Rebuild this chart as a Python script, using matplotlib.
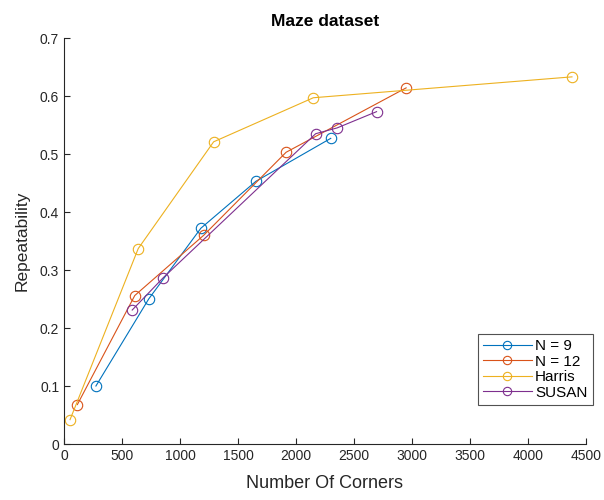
import matplotlib
matplotlib.use("Agg")
import matplotlib.pyplot as plt

plt.rcParams['font.family'] = ['Liberation Sans', 'DejaVu Sans']

# corners vs repeatability
n9_x = [275, 730, 1180, 1655, 2300]
n9_y = [0.100, 0.250, 0.372, 0.453, 0.527]
n12_x = [115, 610, 1205, 1915, 2950]
n12_y = [0.068, 0.256, 0.360, 0.503, 0.614]
harris_x = [52, 640, 1290, 2150, 4380]
harris_y = [0.042, 0.337, 0.521, 0.597, 0.633]
susan_x = [588, 857, 2170, 2355, 2695]
susan_y = [0.231, 0.287, 0.535, 0.545, 0.573]

labels = ['N = 9', 'N = 12', 'Harris', 'SUSAN']
colors = ['#0072BD', '#D95319', '#EDB120', '#7E2F8E']
xticks = [0, 500, 1000, 1500, 2000, 2500, 3000, 3500, 4000, 4500]
yticks = [0, 0.1, 0.2, 0.3, 0.4, 0.5, 0.6, 0.7]

fig = plt.figure(figsize=(6.04, 5.0), dpi=100)
ax = fig.add_axes([0.106, 0.112, 0.864, 0.812])

series = [(n9_x, n9_y), (n12_x, n12_y), (harris_x, harris_y), (susan_x, susan_y)]
for (xs, ys), lab, c in zip(series, labels, colors):
    ax.plot(xs, ys, '-o', color=c, label=lab, linewidth=0.8,
            markersize=7.5, markerfacecolor='none', markeredgewidth=0.8)

ax.set_xlim(0, 4500)
ax.set_ylim(0, 0.7)
ax.set_xticks(xticks)
ax.set_yticks(yticks)
ax.set_yticklabels(['0', '0.1', '0.2', '0.3', '0.4', '0.5', '0.6', '0.7'])

for s in ['top', 'right']:
    ax.spines[s].set_visible(False)
for s in ['left', 'bottom']:
    ax.spines[s].set_color('#262626')
    ax.spines[s].set_linewidth(0.8)
ax.tick_params(direction='in', length=4, width=0.8, colors='#262626',
               labelsize=10, labelcolor='#262626')

ax.set_xlabel('Number Of Corners', fontsize=13, color='#262626', labelpad=9)
ax.set_ylabel('Repeatability', fontsize=12.5, color='#262626', labelpad=7)
ax.set_title('Maze dataset', fontsize=12.5, fontweight='bold', color='#000000', pad=9)

leg = ax.legend(loc='lower right', bbox_to_anchor=(1.013, 0.096), fontsize=11,
                frameon=True, fancybox=False, edgecolor='#262626',
                borderpad=0.35, labelspacing=0.1, handlelength=3.2,
                handletextpad=0.2, borderaxespad=0, markerscale=0.8)
leg.get_frame().set_linewidth(0.8)

fig.savefig('out.png', dpi=100)
